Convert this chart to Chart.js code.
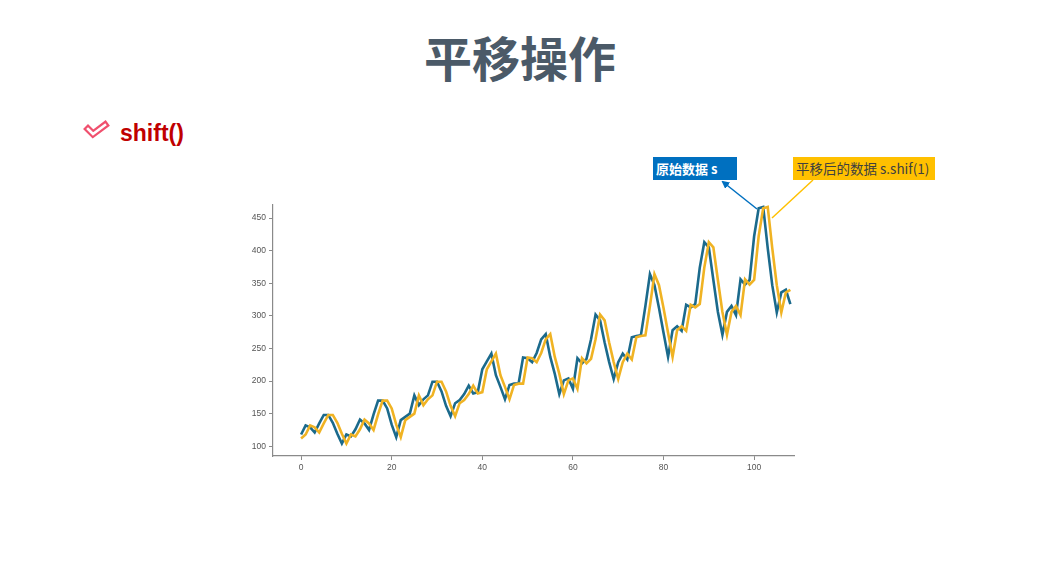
<!DOCTYPE html>
<html>
<head>
<meta charset="utf-8">
<script src="https://cdn.jsdelivr.net/npm/chart.js@4/dist/chart.umd.min.js"></script>
<style>
  html, body { margin: 0; padding: 0; background: #ffffff; }
  body { width: 1046px; height: 566px; position: relative; overflow: hidden; font-family: "Liberation Sans", Arial, sans-serif; }
  #title { position: absolute; left: -3px; width: 1046px; top: 24px; text-align: center; font-family: "Noto Sans CJK SC", sans-serif; font-weight: bold; font-size: 48px; color: #4b5a68; line-height: 64px; }
  #sub { position: absolute; left: 120px; top: 119px; font-family: "Liberation Sans", Arial, sans-serif; font-weight: bold; font-size: 23px; color: #c00000; line-height: 28px; }
  #icon { position: absolute; left: 83px; top: 120px; }
  #wrap { position: absolute; left: 241px; top: 196px; width: 560px; height: 285px; }
  .box { position: absolute; height: 23px; line-height: 23px; font-family: "Noto Sans CJK SC", sans-serif; font-size: 13.5px; padding: 0 3px; box-sizing: border-box; white-space: nowrap; }
  #b1 { left: 653px; top: 157px; width: 84px; background: #0070c0; color: #ffffff; font-weight: bold; font-size: 13px; }
  #b2 { left: 793px; top: 157px; width: 142px; background: #ffc000; color: #404040; }
  #ann { position: absolute; left: 0; top: 0; }
</style>
</head>
<body>
<div id="title">平移操作</div>
<svg id="icon" width="30" height="22" viewBox="0 0 30 22">
  <polyline points="5,9 10,14 22,5" fill="none" stroke="#f0506e" stroke-width="7" stroke-linejoin="miter" stroke-linecap="square"/>
  <polyline points="5,9 10,14 22,5" fill="none" stroke="#ffffff" stroke-width="2.6" stroke-linejoin="miter" stroke-linecap="square"/>
</svg>
<div id="sub">shift()</div>
<div id="wrap"><canvas id="c" width="560" height="285"></canvas></div>
<svg id="ann" width="1046" height="566">
  <defs>
    <marker id="ah" markerWidth="8" markerHeight="8" refX="6" refY="4" orient="auto" markerUnits="userSpaceOnUse">
      <path d="M0,0 L8,4 L0,8 z" fill="#0070c0"/>
    </marker>
  </defs>
  <line x1="757" y1="209" x2="723" y2="182" stroke="#0070c0" stroke-width="1.5" marker-end="url(#ah)"/>
  <line x1="772" y1="218" x2="813" y2="180" stroke="#ffc000" stroke-width="1.5"/>
</svg>
<div id="b1" class="box">原始数据 s</div>
<div id="b2" class="box">平移后的数据 s.shif(1)</div>
<script>
const original = [118,132,129,121,135,148,148,136,119,104,118,115,126,141,135,125,149,170,170,158,133,114,140,145,150,178,163,172,178,199,199,184,162,146,166,171,180,193,181,183,218,230,242,209,191,172,194,196,196,236,235,229,243,264,272,237,211,180,201,204,188,235,227,234,264,302,293,259,229,203,229,242,233,267,269,270,315,364,347,312,274,237,278,284,277,317,313,318,374,413,405,355,306,271,306,315,301,356,348,355,422,465,467,404,347,305,336,340,318];
const shifted = [112,118,132,129,121,135,148,148,136,119,104,118,115,126,141,135,125,149,170,170,158,133,114,140,145,150,178,163,172,178,199,199,184,162,146,166,171,180,193,181,183,218,230,242,209,191,172,194,196,196,236,235,229,243,264,272,237,211,180,201,204,188,235,227,234,264,302,293,259,229,203,229,242,233,267,269,270,315,364,347,312,274,237,278,284,277,317,313,318,374,413,405,355,306,271,306,315,301,356,348,355,422,465,467,404,347,305,336,340];
const xTicks = [0,20,40,60,80,100];
const yTicks = [100,150,200,250,300,350,400,450];

const toPts = arr => arr.map((v, i) => ({x: i, y: v}));

new Chart(document.getElementById('c'), {
  type: 'line',
  data: {
    datasets: [
      { label: 's.shift(1)', data: toPts(shifted), borderColor: '#f0b323', borderWidth: 2.6, pointRadius: 0, tension: 0, fill: false },
      { label: 's', data: toPts(original), borderColor: '#1b6a8c', borderWidth: 2.6, pointRadius: 0, tension: 0, fill: false }
    ]
  },
  options: {
    responsive: false,
    animation: false,
    layout: { padding: { top: 9, right: 7, left: 0, bottom: 0 } },
    plugins: { legend: { display: false }, tooltip: { enabled: false } },
    scales: {
      x: {
        type: 'linear', min: -6.2, max: 108.8,
        afterBuildTicks: s => { s.ticks = xTicks.map(v => ({value: v})); },
        afterFit: s => { s.height = 25; },
        border: { color: '#8a8a8a', width: 1.2 },
        grid: { display: true, drawOnChartArea: false, drawTicks: true, tickLength: 4, color: '#8a8a8a' },
        ticks: { color: '#555555', font: { size: 8.5, family: 'Liberation Sans' }, padding: 3, maxRotation: 0 }
      },
      y: {
        min: 85, max: 470,
        afterBuildTicks: s => { s.ticks = yTicks.map(v => ({value: v})); },
        afterFit: s => { s.width = 32; },
        border: { color: '#8a8a8a', width: 1.2 },
        grid: { display: true, drawOnChartArea: false, drawTicks: true, tickLength: 4, color: '#8a8a8a' },
        ticks: { color: '#555555', font: { size: 8.5, family: 'Liberation Sans' }, padding: 3 }
      }
    }
  }
});
</script>
</body>
</html>
